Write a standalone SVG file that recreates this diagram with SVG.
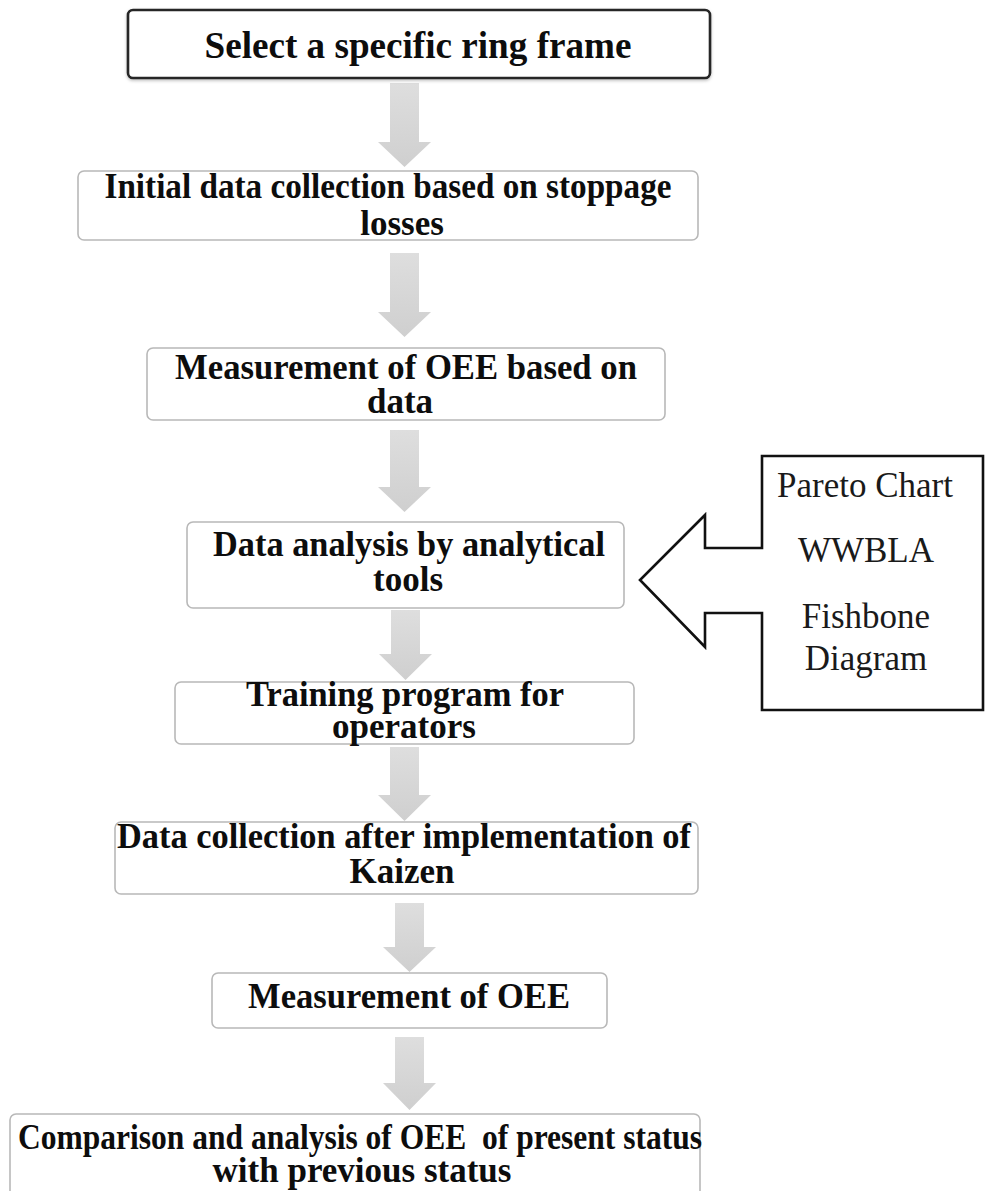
<svg xmlns="http://www.w3.org/2000/svg" width="986" height="1191" viewBox="0 0 986 1191">
<defs>
<linearGradient id="ag" x1="0" y1="0" x2="0" y2="1">
<stop offset="0" stop-color="#dedede"/>
<stop offset="1" stop-color="#cfcfcf"/>
</linearGradient>
<filter id="sh" x="-5%" y="-20%" width="110%" height="150%">
<feDropShadow dx="0" dy="1.5" stdDeviation="1.5" flood-color="#000" flood-opacity="0.25"/>
</filter>
<style>
.bx{fill:#fff;stroke:#b8b8b8;stroke-width:1.6}
.bx1{fill:#fff;stroke:#262626;stroke-width:2.6}
.t{font-family:"Liberation Serif","Times New Roman",serif;font-weight:bold;font-size:35px;fill:#0d0d0d;text-anchor:middle}
.r{font-family:"Liberation Serif","Times New Roman",serif;font-size:35px;fill:#1a1a1a;text-anchor:middle}
.ar{fill:url(#ag)}
.co{fill:#fff;stroke:#111;stroke-width:2.6;stroke-linejoin:miter}
</style>
</defs>
<rect width="986" height="1191" fill="#fff"/>
<g id="connectors">
<polygon class="ar" points="390,83 419,83 419,142 431,142 404.5,167 378,142 390,142"/>
<polygon class="ar" points="390,253 419,253 419,312 431,312 404.5,337 378,312 390,312"/>
<polygon class="ar" points="390,430 419,430 419,487 431,487 404.5,512 378,487 390,487"/>
<polygon class="ar" points="391,610 420,610 420,654 432,654 405.5,680 379,654 391,654"/>
<polygon class="ar" points="390,747 419,747 419,795 431,795 404.5,821 378,795 390,795"/>
<polygon class="ar" points="395,903 424,903 424,947 436,947 409.5,972 383,947 395,947"/>
<polygon class="ar" points="395,1037 424,1037 424,1083 436,1083 409.5,1110 383,1083 395,1083"/>
</g>
<g id="n1">
<rect class="bx1" x="128" y="10" width="582" height="68" rx="5" filter="url(#sh)"/>
<text class="t" x="418" y="58" style="font-size:37px" textLength="427" lengthAdjust="spacingAndGlyphs">Select a specific ring frame</text>
</g>
<g id="n2">
<rect class="bx" x="78" y="171" width="620" height="69" rx="6"/>
<text class="t" x="388" y="198" textLength="567" lengthAdjust="spacingAndGlyphs">Initial data collection based on stoppage</text>
<text class="t" x="402" y="235">losses</text>
</g>
<g id="n3">
<rect class="bx" x="147" y="348" width="518" height="72" rx="6"/>
<text class="t" x="406" y="379" textLength="462" lengthAdjust="spacingAndGlyphs">Measurement of OEE based on</text>
<text class="t" x="400" y="413">data</text>
</g>
<g id="n4">
<rect class="bx" x="187" y="522" width="437" height="86" rx="6"/>
<text class="t" x="409" y="556" textLength="392" lengthAdjust="spacingAndGlyphs">Data analysis by analytical</text>
<text class="t" x="408" y="591">tools</text>
</g>
<g id="n5">
<rect class="bx" x="175" y="682" width="459" height="62" rx="6"/>
<text class="t" x="405" y="706" textLength="318" lengthAdjust="spacingAndGlyphs">Training program for</text>
<text class="t" x="404" y="738">operators</text>
</g>
<g id="n6">
<rect class="bx" x="115" y="822" width="583" height="72" rx="6"/>
<text class="t" x="404" y="848" textLength="574" lengthAdjust="spacingAndGlyphs">Data collection after implementation of</text>
<text class="t" x="402" y="883">Kaizen</text>
</g>
<g id="n7">
<rect class="bx" x="212" y="973" width="395" height="55" rx="6"/>
<text class="t" x="409" y="1008" textLength="322" lengthAdjust="spacingAndGlyphs">Measurement of OEE</text>
</g>
<g id="n8">
<rect class="bx" x="10" y="1114" width="690" height="90" rx="6"/>
<text class="t" x="360" y="1149" textLength="684" lengthAdjust="spacingAndGlyphs">Comparison and analysis of OEE &#160;of present status</text>
<text class="t" x="362" y="1182">with previous status</text>
</g>
<g id="tools">
<path class="co" d="M762,456 L983,456 L983,710 L762,710 L762,613 L705,613 L705,647 L640,580 L705,515 L705,548 L762,548 Z"/>
<text class="r" x="865" y="497">Pareto Chart</text>
<text class="r" x="866" y="562">WWBLA</text>
<text class="r" x="866" y="628">Fishbone</text>
<text class="r" x="866" y="670">Diagram</text>
</g>
</svg>
